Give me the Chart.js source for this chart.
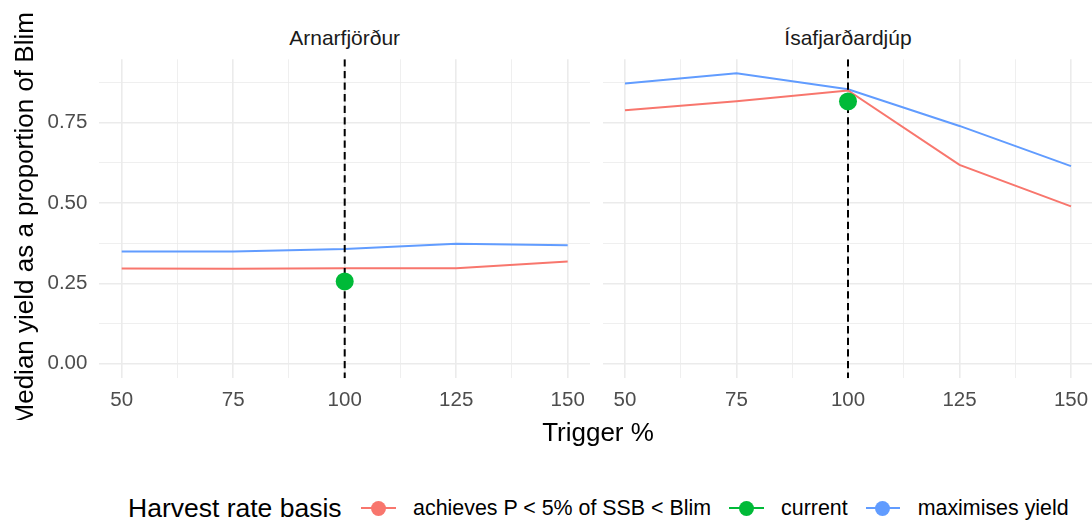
<!DOCTYPE html>
<html>
<head>
<meta charset="utf-8">
<script src="https://cdn.jsdelivr.net/npm/chart.js@4.4.1/dist/chart.umd.min.js"></script>
<style>
  body { margin: 0; background: #fff; font-family: "Liberation Sans", Arial, sans-serif; }
  #wrap { position: relative; width: 1092px; height: 523px; overflow: hidden; }
  .box { position: absolute; top: 0; }
  .strip { position: absolute; top: 26.4px; line-height: 24px; font-size: 21px; color: #1a1a1a; text-align: center; }
  #xTitle { position: absolute; left: 398px; width: 400px; top: 416.7px; line-height: 30px; font-size: 26px; text-align: center; color: #000; }
  #legend { position: absolute; left: 128px; top: 488px; height: 40px; display: flex; align-items: center; white-space: nowrap; }
  #legend .title { font-size: 26.5px; color: #000; margin-right: 19.5px; }
  #legend .key { position: relative; width: 34.5px; height: 20px; margin-right: 17.5px; }
  #legend .key .ln { position: absolute; left: 0; right: 0; top: 9px; height: 2px; }
  #legend .key .dot { position: absolute; left: 9.75px; top: 2.5px; width: 15px; height: 15px; border-radius: 50%; }
  #legend .lab { font-size: 21.4px; color: #000; margin-right: 18px; }
</style>
</head>
<body>
<div id="wrap">
  <div class="strip" id="strip0" style="left:99.4px; width:490.6px;"></div>
  <div class="strip" id="strip1" style="left:602.7px; width:490.6px;"></div>
  <div class="box" style="left:0; width:592px;"><canvas id="panel0" width="592" height="420"></canvas></div>
  <div class="box" style="left:592px; width:502px;"><canvas id="panel1" width="502" height="420"></canvas></div>
  <div id="xTitle">Trigger %</div>
  <div id="legend"></div>
</div>
<script>
// x: trigger as % of the current trigger
const triggers = [50, 75, 100, 125, 150];
const sites = ['Arnarfjörður', 'Ísafjarðardjúp'];

// median yield / Blim when the harvest rate keeps P(SSB < Blim) under 5%
const achievesArnar = [0.296, 0.295, 0.297, 0.297, 0.318];
const achievesIsa = [0.788, 0.816, 0.849, 0.618, 0.489];

// median yield / Blim when the harvest rate maximises yield
const maxYieldArnar = [0.349, 0.349, 0.357, 0.373, 0.368];
const maxYieldIsa = [0.871, 0.903, 0.853, 0.739, 0.614];

// current harvest rate, sits at the current trigger
const currentTrigger = 100;
const currentArnar = 0.256;
const currentIsa = 0.815;

const xTickLabels = [50, 75, 100, 125, 150];
const yTickLabels = [0, 0.25, 0.5, 0.75];

const seriesNames = ['achieves P < 5% of SSB < Blim', 'current', 'maximises yield'];
const seriesColors = ['#F8766D', '#00BA38', '#619CFF'];

const xMin = 45, xMax = 155;
const yMin = -0.045, yMax = 0.946;

// major breaks plus the minor ones half way between
function withMinor(breaks) {
    const out = [];
    breaks.forEach((b, i) => {
        if (i > 0) out.push((breaks[i - 1] + b) / 2);
        out.push(b);
    });
    if (breaks.length > 1) {
        const step = breaks[1] - breaks[0];
        out.push(breaks[breaks.length - 1] + step / 2);
    }
    return out;
}

function gridWidth(majors) {
    return ctx => majors.includes(ctx.tick.value) ? 1.6 : 0.8;
}

function makePanel(idx, achieves, maxYield, current) {
    const first = idx === 0;
    document.getElementById('strip' + idx).textContent = sites[idx];

    const ctx = document.getElementById('panel' + idx).getContext('2d');
    return new Chart(ctx, {
        type: 'line',
        data: {
            datasets: [
                // the current harvest rate point goes on top of everything
                {
                    label: seriesNames[1],
                    data: [{ x: currentTrigger, y: current }],
                    showLine: false,
                    pointRadius: 9,
                    pointBorderWidth: 0,
                    pointBackgroundColor: seriesColors[1]
                },
                // dashed line at the current trigger
                {
                    label: 'trigger',
                    data: [{ x: currentTrigger, y: yMax }, { x: currentTrigger, y: yMin }],
                    borderColor: '#000',
                    borderWidth: 2,
                    borderDash: [7.3, 4.3],
                    pointRadius: 0
                },
                {
                    label: seriesNames[0],
                    data: triggers.map((t, i) => ({ x: t, y: achieves[i] })),
                    borderColor: seriesColors[0],
                    borderWidth: 2,
                    pointRadius: 0,
                    tension: 0
                },
                {
                    label: seriesNames[2],
                    data: triggers.map((t, i) => ({ x: t, y: maxYield[i] })),
                    borderColor: seriesColors[2],
                    borderWidth: 2,
                    pointRadius: 0,
                    tension: 0
                }
            ]
        },
        options: {
            responsive: false,
            animation: false,
            layout: {
                autoPadding: false,
                padding: { top: 59.3, right: first ? 2 : 0.7, left: 0, bottom: 0 }
            },
            plugins: { legend: { display: false }, tooltip: { enabled: false } },
            scales: {
                x: {
                    type: 'linear',
                    min: xMin,
                    max: xMax,
                    afterBuildTicks: s => { s.ticks = withMinor(xTickLabels).filter(v => v < xMax).map(v => ({ value: v })); },
                    afterFit: s => {
                        s.height = 41.7;
                        s.paddingLeft = 0;
                        s.paddingRight = 0;
                    },
                    border: { display: false },
                    grid: {
                        color: '#ebebeb',
                        lineWidth: gridWidth(xTickLabels),
                        drawTicks: true,
                        tickLength: 9.4,
                        tickColor: 'rgba(0,0,0,0)'
                    },
                    ticks: {
                        autoSkip: false,
                        maxRotation: 0,
                        padding: 0,
                        color: '#4d4d4d',
                        font: { family: 'Liberation Sans', size: 20.5 },
                        callback: v => xTickLabels.includes(v) ? String(v) : ''
                    }
                },
                y: {
                    type: 'linear',
                    min: yMin,
                    max: yMax,
                    afterBuildTicks: s => { s.ticks = withMinor(yTickLabels).map(v => ({ value: v })); },
                    afterFit: s => { s.width = first ? 99.4 : 10.7; },
                    border: { display: false },
                    grid: {
                        color: '#ebebeb',
                        lineWidth: gridWidth(yTickLabels),
                        drawTicks: false
                    },
                    title: {
                        display: first,
                        text: 'Median yield as a proportion of Blim',
                        color: '#000',
                        font: { family: 'Liberation Sans', size: 26 },
                        padding: { top: 10.3, bottom: 0 }
                    },
                    ticks: {
                        display: first,
                        autoSkip: false,
                        padding: 12,
                        color: '#4d4d4d',
                        font: { family: 'Liberation Sans', size: 20.5 },
                        callback: v => yTickLabels.includes(v) ? v.toFixed(2) : ''
                    }
                }
            }
        }
    });
}

makePanel(0, achievesArnar, maxYieldArnar, currentArnar);
makePanel(1, achievesIsa, maxYieldIsa, currentIsa);

// legend row: a line with a point through it, as each key
const legend = document.getElementById('legend');
legend.innerHTML = '<span class="title">Harvest rate basis</span>';
seriesNames.forEach((name, i) => {
    const key = document.createElement('span');
    key.className = 'key';
    key.innerHTML = `<span class="ln" style="background:${seriesColors[i]}"></span><span class="dot" style="background:${seriesColors[i]}"></span>`;
    const lab = document.createElement('span');
    lab.className = 'lab';
    lab.textContent = name;
    legend.appendChild(key);
    legend.appendChild(lab);
});
</script>
</body>
</html>
